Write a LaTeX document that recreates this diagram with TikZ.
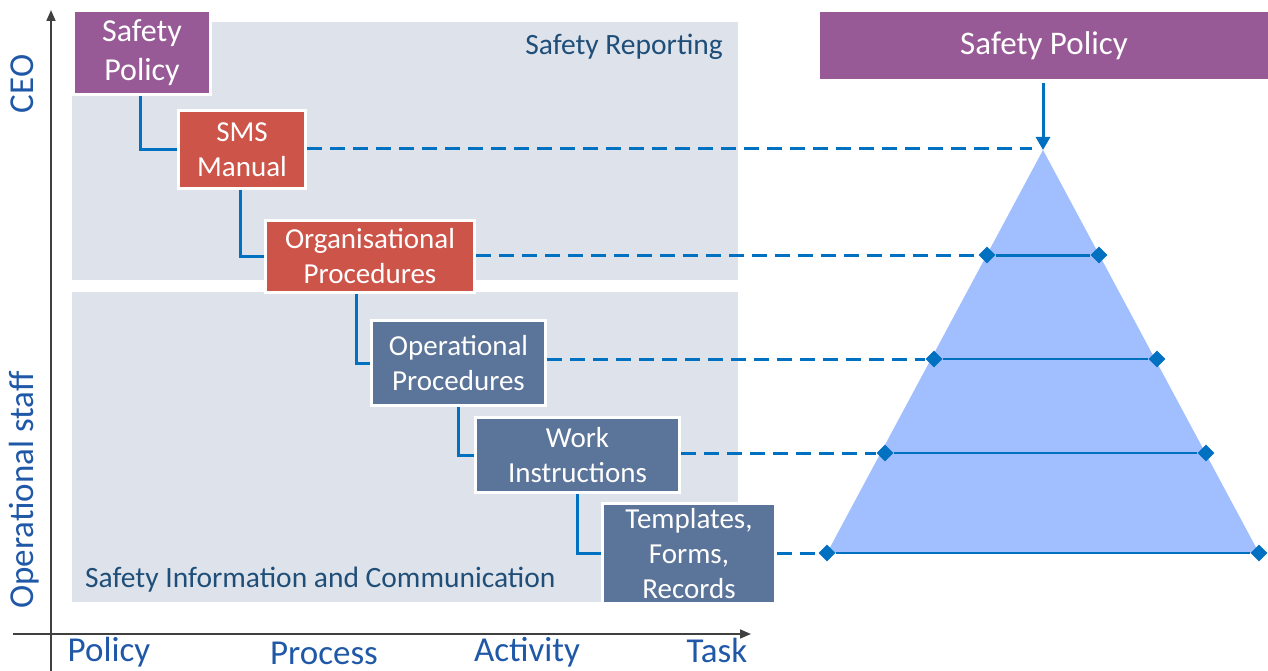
\documentclass[tikz,border=0pt]{standalone}
\usepackage{fontspec}
\setmainfont{Carlito}
\usetikzlibrary{shapes.geometric,arrows.meta}
\definecolor{purp}{RGB}{151,90,150}
\definecolor{redb}{RGB}{205,84,73}
\definecolor{slate}{RGB}{91,116,153}
\definecolor{greyb}{RGB}{222,227,235}
\definecolor{lblue}{RGB}{0,112,192}
\definecolor{pyr}{RGB}{161,191,255}
\definecolor{dtext}{RGB}{31,78,121}
\definecolor{axtext}{RGB}{32,88,168}
\definecolor{axline}{RGB}{64,64,64}
\tikzset{
  box/.style={draw=white, line width=3pt, text=white, align=center, inner sep=0pt,
    font=\fontsize{29}{35}\selectfont},
  conn/.style={lblue, line width=3pt},
  dsh/.style={lblue, line width=3pt, dash pattern=on 15pt off 8pt},
  lvl/.style={lblue, line width=2pt},
  dmd/.style={diamond, fill=lblue, inner sep=0pt, minimum size=17pt},
  axis/.style={axline, line width=1.6pt, -{Triangle[length=11pt,width=9pt]}},
  axlab/.style={text=axtext, inner sep=0pt, anchor=base, font=\fontsize{35}{40}\selectfont},
  sidelab/.style={text=axtext, inner sep=0pt, anchor=base, rotate=90, font=\fontsize{35}{40}\selectfont},
  zonelab/.style={text=dtext, inner sep=0pt, font=\fontsize{29.5}{35}\selectfont}
}
\begin{document}
\begin{tikzpicture}[x=1pt,y=-1pt]
\useasboundingbox (0,0) rectangle (1268,671);
% background zones
\fill[greyb] (72,22) rectangle (738,280);
\fill[greyb] (72,292) rectangle (738,602);
\node[zonelab, anchor=base east] (rep) at (723,55) {Safety Reporting};
\node[zonelab, anchor=base west] (info) at (85,587) {Safety Information and Communication};
% axes
\coordinate (ybot) at (51,671);
\coordinate (ytop) at (51,10);
\coordinate (xbeg) at (13,634);
\coordinate (xend) at (751,634);
\draw[axis] (ybot) -- (ytop);
\draw[axis] (xbeg) -- (xend);
\node[axlab] (lpol) at (109,661) {Policy};
\node[axlab] (lpro) at (324,664) {Process};
\node[axlab] (lact) at (527,661) {Activity};
\node[axlab] (ltask) at (717,662) {Task};
\node[sidelab] (lceo) at (33,84) {CEO};
\node[sidelab] (lstaff) at (33,490) {Operational staff};
% document boxes
\node[box, fill=purp, minimum width=137pt, minimum height=84pt,
  font=\fontsize{32}{39}\selectfont] (sp) at (142,52.5) {Safety\\Policy};
\node[box, fill=redb, minimum width=127pt, minimum height=78pt] (sms) at (242,149.5) {SMS\\Manual};
\node[box, fill=redb, minimum width=209pt, minimum height=72pt] (org) at (370,256.5) {Organisational\\Procedures};
\node[box, fill=slate, minimum width=174pt, minimum height=85pt] (op) at (458.5,363) {Operational\\Procedures};
\node[box, fill=slate, minimum width=204pt, minimum height=75pt] (work) at (577.5,455) {Work\\Instructions};
\node[box, fill=slate, minimum width=173pt, minimum height=100pt] (tmp) at (689,553.5) {Templates,\\Forms,\\Records};
% hierarchy connectors
\draw[conn] ([xshift=-2pt]sp.south) |- (sms.west);
\draw[conn] ([xshift=-2pt]sms.south) |- (org.west);
\draw[conn] ([xshift=-14pt]org.south) |- (op.west);
\draw[conn] (op.south) |- (work.west);
\draw[conn] (work.south) |- (tmp.west);
% pyramid
\coordinate (apex) at (1043,150);
\coordinate (bl) at (827,553);
\coordinate (br) at (1259,553);
\fill[pyr] (apex) -- (bl) -- (br) -- cycle;
\node[dmd] (l1) at (987,255) {};
\node[dmd] (r1) at (1099,255) {};
\node[dmd] (l2) at (934,359) {};
\node[dmd] (r2) at (1157,359) {};
\node[dmd] (l3) at (885,453) {};
\node[dmd] (r3) at (1206,453) {};
\node[dmd] (l4) at (bl) {};
\node[dmd] (r4) at (br) {};
\draw[conn] (l1) -- (r1);
\draw[lvl] (l2) -- (r2);
\draw[lvl] (l3) -- (r3);
\draw[lvl] (l4) -- (r4);
% dashed links
\coordinate (smsend) at (1032,149);
\draw[dsh] (sms.east |- smsend) -- (smsend);
\draw[dsh] (org.east |- l1) -- (l1);
\draw[dsh] (op.east |- l2) -- (l2);
\draw[dsh] (work.east |- l3) -- (l3);
\draw[dsh] (tmp.east |- l4) -- (l4);
% right safety policy
\node[fill=purp, text=white, inner sep=0pt, minimum width=448pt, minimum height=67pt,
  font=\fontsize{33}{39}\selectfont] (spr) at (1044,45.5) {Safety Policy};
\draw[conn, shorten <=4pt, -{Triangle[length=13pt,width=14pt]}] (spr.south -| apex) -- (apex);
\end{tikzpicture}
\end{document}
